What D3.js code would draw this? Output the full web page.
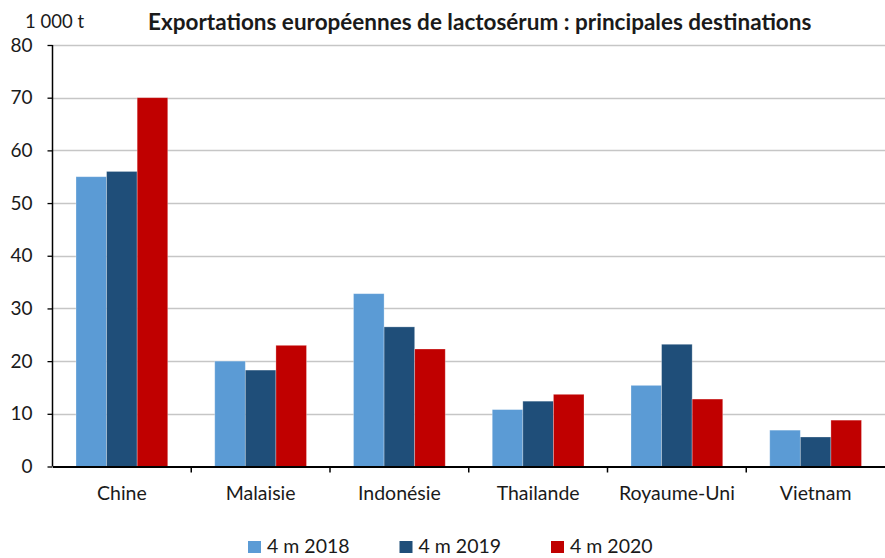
<!DOCTYPE html>
<html>
<head>
<meta charset="utf-8">
<script src="https://cdn.jsdelivr.net/npm/d3@7"></script>
<style>
  body { margin: 0; background: #fff; }
  text { font-family: Lato, "Liberation Sans", sans-serif; fill: #1a1a1a; }
</style>
</head>
<body>
<svg id="chart"></svg>
<script>
// data
let categories = ["Chine", "Malaisie", "Indonésie", "Thailande", "Royaume-Uni", "Vietnam"];
let seriesNames = ["4 m 2018", "4 m 2019", "4 m 2020"];
let values2018 = [55, 20, 32.8, 10.8, 15.4, 6.9];
let values2019 = [56, 18.3, 26.5, 12.4, 23.2, 5.6];
let values2020 = [70, 23, 22.3, 13.7, 12.8, 8.8];
let yTicks = [0, 10, 20, 30, 40, 50, 60, 70, 80];
let colors = ["#5B9BD5", "#1F4E79", "#C00000"];

let width = 885;
let height = 558;
let margin = ({top: 45, right: 0, bottom: 92, left: 52.5});

let series = [values2018, values2019, values2020];
let data = categories.map((c, i) => ({name: c, values: series.map((s, j) => ({key: seriesNames[j], value: s[i]}))}));

const svg = d3.select('#chart').attr('width', width).attr('height', height);

let x = d3.scaleBand()
  .domain(categories)
  .range([margin.left, width - margin.right])
  .paddingInner(0)
  .paddingOuter(0);

let xInner = d3.scaleBand()
  .domain(seriesNames)
  .range([23.5, x.bandwidth() - 23.5]);

let y = d3.scaleLinear()
  .domain([0, 80])
  .range([height - margin.bottom + 0.5, margin.top]);

// gridlines
svg.append('g')
  .selectAll('line')
  .data(yTicks.slice(1))
  .join('line')
  .attr('x1', margin.left)
  .attr('x2', width - margin.right)
  .attr('y1', d => Math.round(y(d)) + 0.5)
  .attr('y2', d => Math.round(y(d)) + 0.5)
  .attr('stroke', '#c6c6c6')
  .attr('stroke-width', 1.5);

// bars
const groups = svg.append('g')
  .selectAll('g')
  .data(data)
  .join('g')
  .attr('transform', d => `translate(${x(d.name)},0)`);

groups.selectAll('rect')
  .data(d => d.values)
  .join('rect')
  .attr('x', d => xInner(d.key))
  .attr('y', d => y(d.value))
  .attr('width', xInner.bandwidth())
  .attr('height', d => y(0) - y(d.value))
  .attr('fill', (d, i) => colors[i])
  .attr('stroke', 'rgba(255,255,255,0.35)')
  .attr('stroke-width', 0.8);

// y axis
let yAxis = g => g
  .attr('transform', `translate(${margin.left},0)`)
  .call(d3.axisLeft(y).tickValues(yTicks).tickSize(5).tickPadding(15).tickFormat(d3.format('d')))
  .call(g => g.select('.domain').attr('stroke', '#000').attr('stroke-width', 1.5).attr('d', `M0,${y(80)}V${y(0)}`))
  .call(g => g.selectAll('.tick line').attr('stroke', '#000').attr('stroke-width', 1.3))
  .call(g => g.selectAll('.tick text').attr('font-size', 19).attr('font-family', 'Lato, sans-serif').attr('fill', '#1a1a1a'));

// x axis
let xAxis = g => g
  .attr('transform', `translate(0,${y(0)})`)
  .call(d3.axisBottom(x).tickSize(0).tickPadding(20).tickSizeOuter(0))
  .call(g => g.select('.domain').attr('stroke', '#000').attr('stroke-width', 2))
  .call(g => g.selectAll('.tick text').attr('font-size', 19.5).attr('font-family', 'Lato, sans-serif').attr('fill', '#1a1a1a'));

svg.append('g').call(yAxis);
svg.append('g').call(xAxis);

// category separators on the x axis
svg.append('g')
  .selectAll('line')
  .data(categories.slice(1))
  .join('line')
  .attr('x1', d => x(d))
  .attr('x2', d => x(d))
  .attr('y1', y(0))
  .attr('y2', y(0) + 6)
  .attr('stroke', '#000')
  .attr('stroke-width', 1.5);

// unit label + title
svg.append('text')
  .attr('x', 25)
  .attr('y', 28)
  .attr('font-size', 18.5)
  .text('1 000 t');

svg.append('text')
  .attr('x', 148)
  .attr('y', 30)
  .attr('font-size', 22.5)
  .attr('font-weight', 'bold')
  .text('Exportations européennes de lactosérum : principales destinations');

// legend
const legend = svg.append('g')
  .selectAll('g')
  .data(seriesNames)
  .join('g')
  .attr('transform', (d, i) => `translate(${248 + i * 151.5},0)`);

legend.append('rect')
  .attr('x', 0)
  .attr('y', 541)
  .attr('width', 13)
  .attr('height', 12)
  .attr('fill', (d, i) => colors[i]);

legend.append('text')
  .attr('x', 19)
  .attr('y', 553)
  .attr('font-size', 19.5)
  .text(d => d);
</script>
</body>
</html>
